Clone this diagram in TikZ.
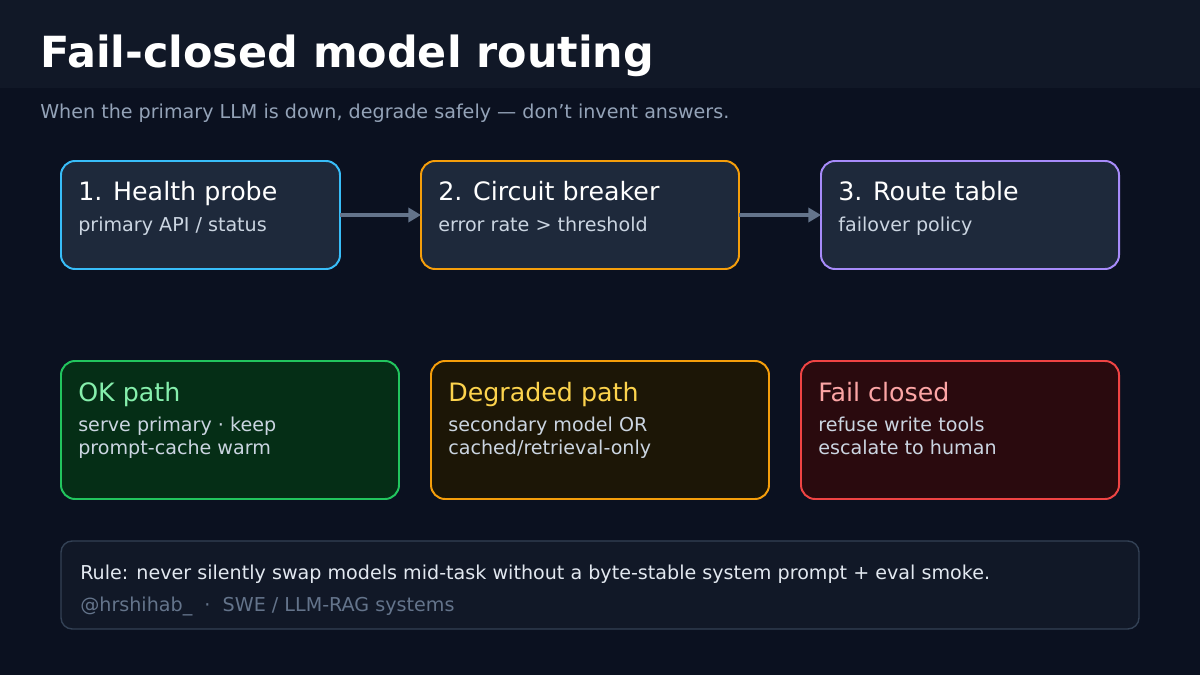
\documentclass[tikz,border=0pt]{standalone}
\usepackage{fontspec}
\setmainfont{DejaVu Sans}
\usetikzlibrary{arrows.meta,positioning}
\definecolor{bgc}{HTML}{0B1120}
\definecolor{headc}{HTML}{111827}
\definecolor{cardc}{HTML}{1E293B}
\definecolor{subc}{HTML}{94A3B8}
\definecolor{txtc}{HTML}{CBD5E1}
\definecolor{arrc}{HTML}{64748B}
\definecolor{cyanc}{HTML}{38BDF8}
\definecolor{orgc}{HTML}{F59E0B}
\definecolor{purc}{HTML}{A78BFA}
\definecolor{grnc}{HTML}{22C55E}
\definecolor{redc}{HTML}{EF4444}
\definecolor{okfill}{HTML}{052E16}
\definecolor{dgfill}{HTML}{1C1606}
\definecolor{fcfill}{HTML}{2A0A0E}
\definecolor{oktxt}{HTML}{86EFAC}
\definecolor{dgtxt}{HTML}{FCD34D}
\definecolor{fctxt}{HTML}{FCA5A5}
\definecolor{ftline}{HTML}{334155}
\definecolor{ruletxt}{HTML}{E2E8F0}
\tikzset{
  card/.style={draw, line width=1.4pt, rounded corners=10pt},
  ttl/.style={anchor=base west, inner sep=0, font=\fontsize{18}{21}\selectfont},
  sub/.style={anchor=base west, inner sep=0, text=txtc,
              font=\fontsize{13.6}{16.4}\selectfont},
  flow/.style={draw=arrc, line width=2.2pt, -{Triangle[length=9pt,width=10pt]}}
}
\begin{document}
\begin{tikzpicture}[x=0.025cm, y=-0.025cm]
\useasboundingbox (0,0) rectangle (1200,675);
\fill[bgc] (0,0) rectangle (1200,675);
\fill[headc] (0,0) rectangle (1200,88);
\node[anchor=base west, inner sep=0, text=white, font=\bfseries\fontsize{30.5}{34}\selectfont] (title) at (40,68) {Fail-closed model routing};
\node[anchor=base west, inner sep=0, text=subc, font=\fontsize{13.6}{16}\selectfont] (subtitle) at (40,119) {When the primary LLM is down, degrade safely — don{\char39}t invent answers.};

% top row
\draw[card, draw=cyanc, fill=cardc] (61,161) rectangle (340,269);
\draw[card, draw=orgc, fill=cardc] (421,161) rectangle (739,269);
\draw[card, draw=purc, fill=cardc] (821,161) rectangle (1119,269);
\coordinate (p1) at (340,215); \coordinate (p2) at (421,215);
\coordinate (p3) at (739,215); \coordinate (p4) at (821,215);
\node[ttl, text=white] (t1) at (78,201) {1. Health probe};
\node[sub] (s1) at (78,231) {primary API / status};
\node[ttl, text=white] (t2) at (438,201) {2. Circuit breaker};
\node[sub] (s2) at (438,231) {error rate > threshold};
\node[ttl, text=white] (t3) at (838,201) {3. Route table};
\node[sub] (s3) at (838,231) {failover policy};
\draw[flow] (p1) -- (p2);
\draw[flow] (p3) -- (p4);

% bottom row
\draw[card, draw=grnc, fill=okfill] (61,361) rectangle (399,499);
\draw[card, draw=orgc, fill=dgfill] (431,361) rectangle (769,499);
\draw[card, draw=redc, fill=fcfill] (801,361) rectangle (1119,499);
\node[ttl, text=oktxt] (ok) at (78,401) {OK path};
\node[sub] (oks1) at (78,431) {serve primary · keep};
\node[sub] (oks2) at (78,454) {prompt-cache warm};
\node[ttl, text=dgtxt] (dg) at (448,401) {Degraded path};
\node[sub] (dgs1) at (448,431) {secondary model OR};
\node[sub] (dgs2) at (448,454) {cached/retrieval-only};
\node[ttl, text=fctxt] (fc) at (818,401) {Fail closed};
\node[sub] (fcs1) at (818,431) {refuse write tools};
\node[sub] (fcs2) at (818,454) {escalate to human};

% footer
\draw[line width=1pt, rounded corners=8pt, draw=ftline, fill=headc] (61,541) rectangle (1139,629);
\node[anchor=base west, inner sep=0, text=ruletxt, font=\fontsize{13.6}{16}\selectfont] (rule) at (80,579) {Rule: never silently swap models mid-task without a byte-stable system prompt + eval smoke.};
\node[anchor=base west, inner sep=0, text=arrc, font=\fontsize{13.6}{16}\selectfont] (sig) at (80,611) {@hrshihab\_ \ · \ SWE / LLM-RAG systems};
\end{tikzpicture}
\end{document}
